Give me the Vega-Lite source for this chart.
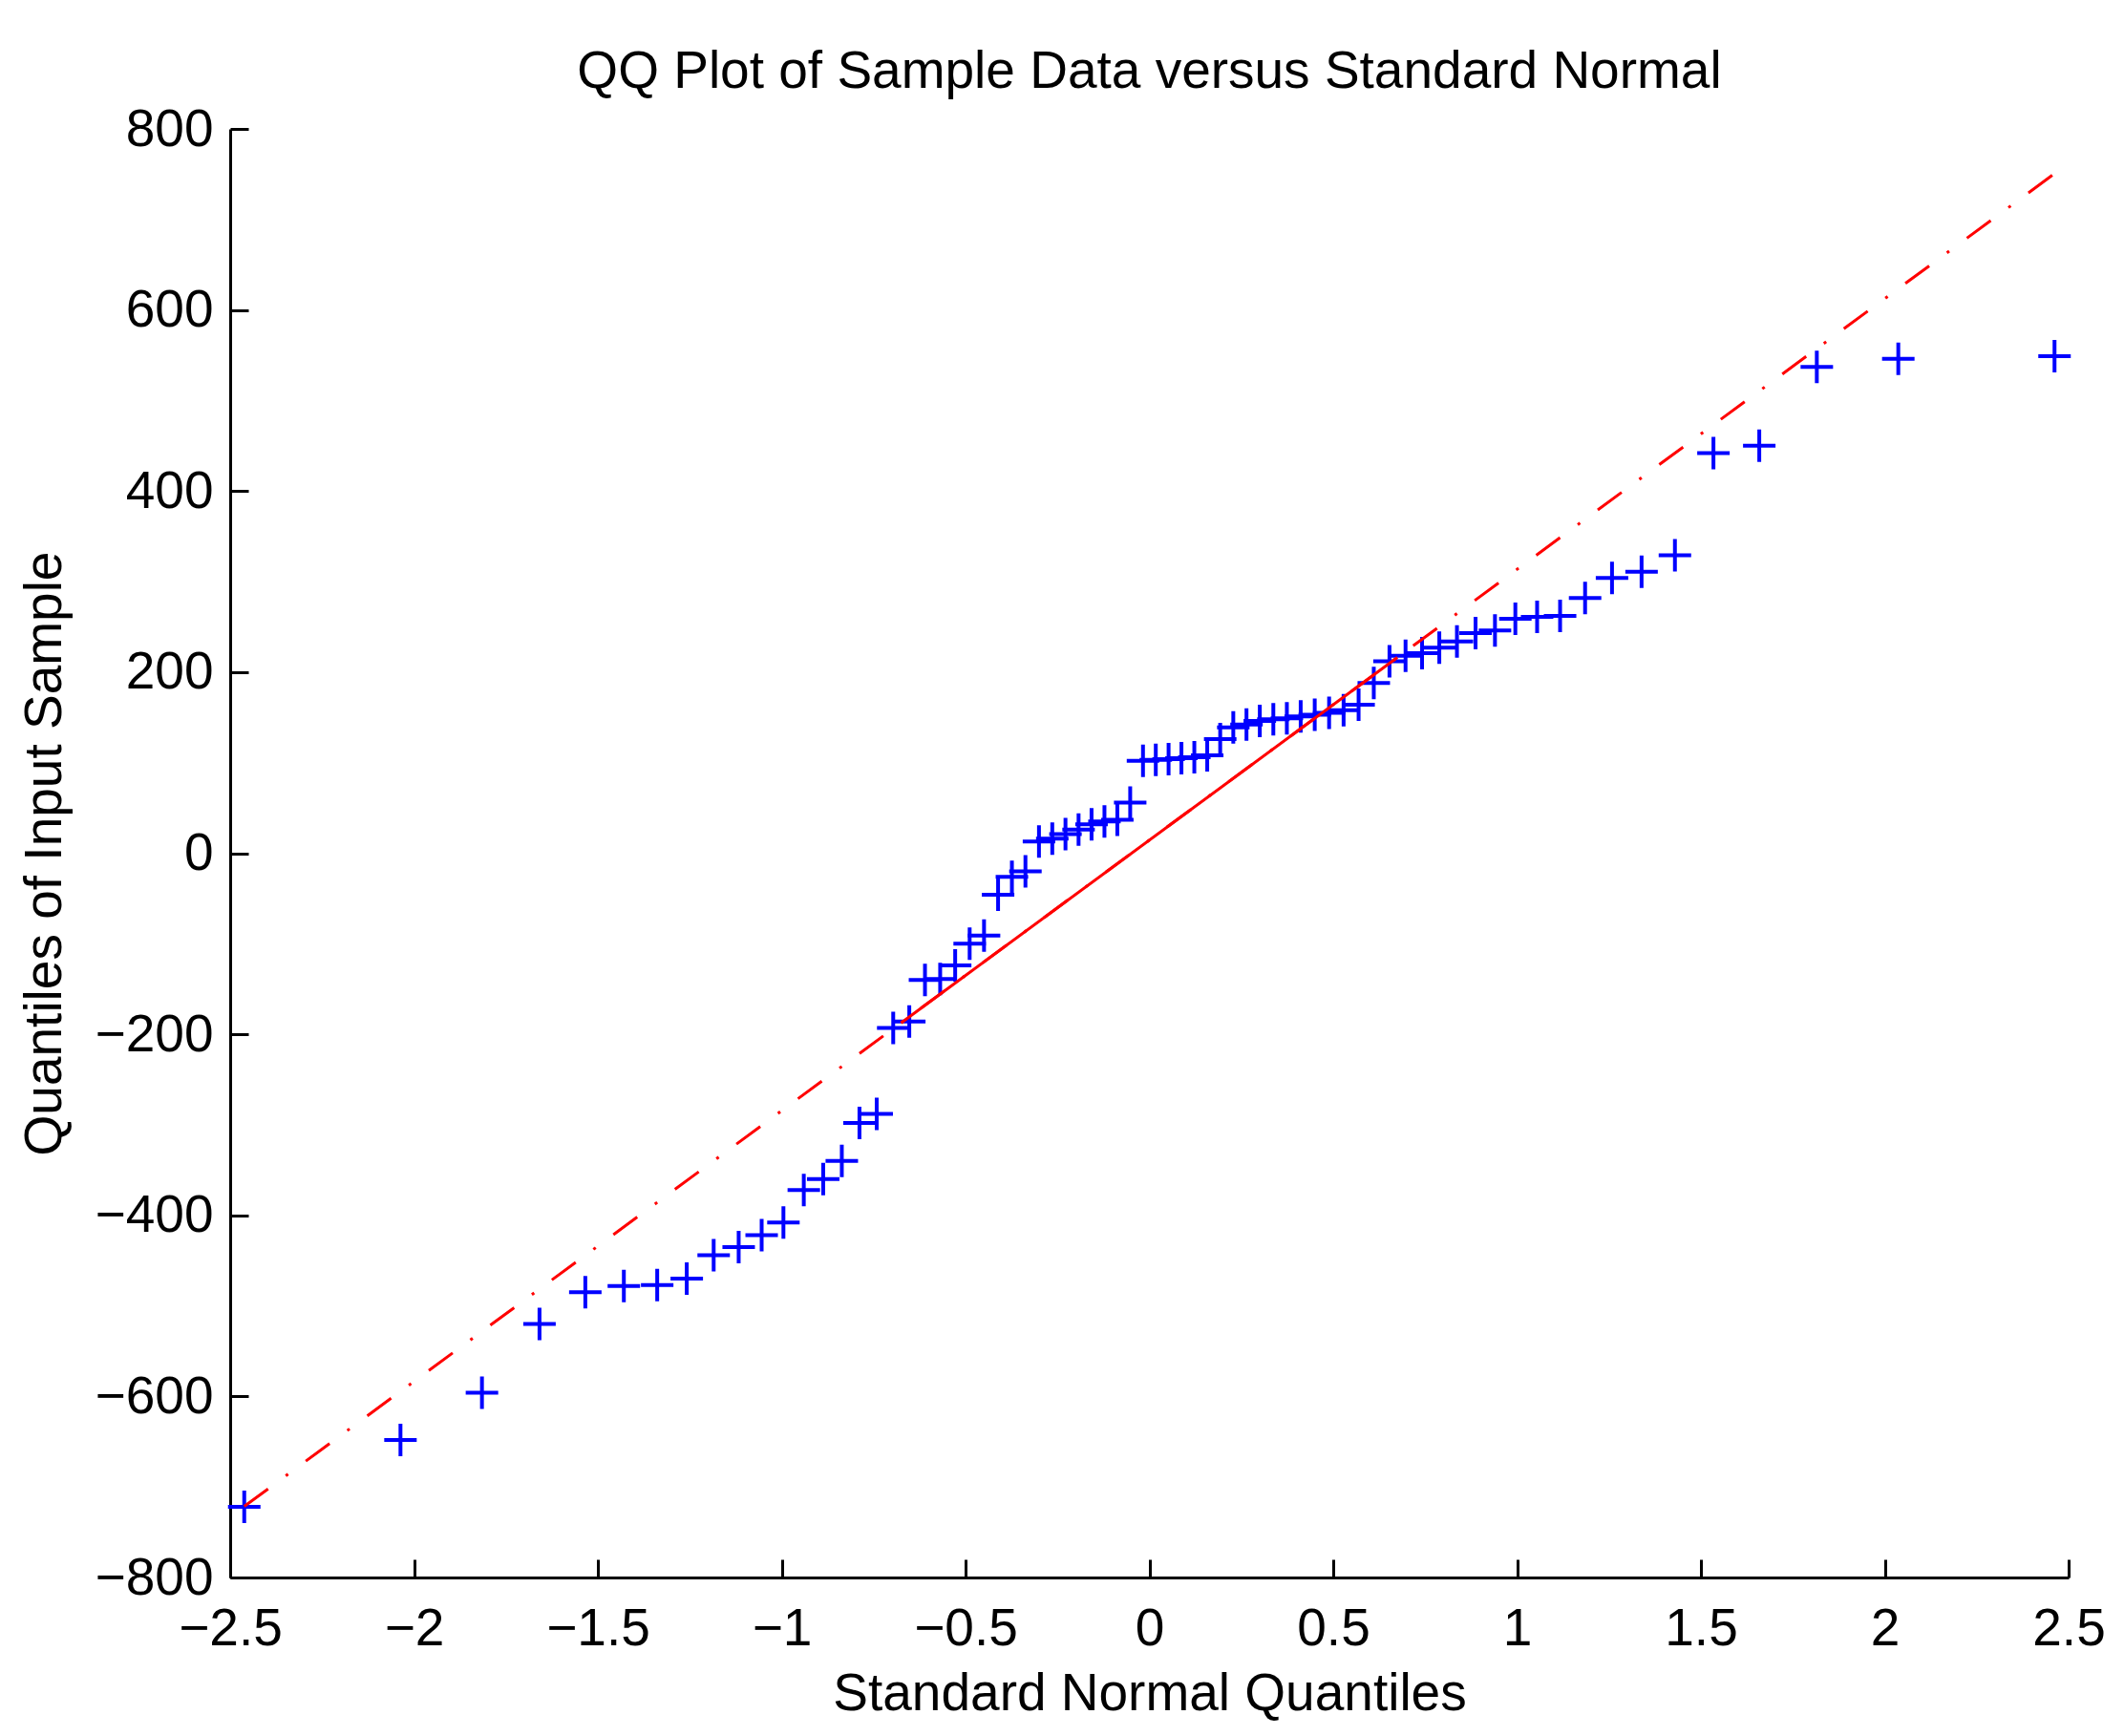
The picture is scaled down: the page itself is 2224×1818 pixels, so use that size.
{
  "$schema": "https://vega.github.io/schema/vega-lite/v6.json",
  "autosize": {"type": "none"},
  "width": 1925,
  "height": 1517,
  "padding": {"left": 241, "top": 135, "right": 58, "bottom": 166},
  "background": "white",
  "config": {
    "view": {"stroke": null},
    "font": "Liberation Sans",
    "axis": {
      "grid": false,
      "domainColor": "black",
      "domainWidth": 3,
      "tickColor": "black",
      "tickWidth": 3,
      "tickSize": -19,
      "labelFont": "Liberation Sans",
      "labelFontSize": 55,
      "labelColor": "black",
      "labelOverlap": false,
      "labelFlush": false,
      "titleFont": "Liberation Sans",
      "titleFontSize": 55,
      "titleFontWeight": "normal",
      "titleColor": "black"
    }
  },
  "title": {
    "text": "QQ Plot of Sample Data versus Standard Normal",
    "frame": "group",
    "anchor": "middle",
    "offset": -39,
    "baseline": "alphabetic",
    "font": "Liberation Sans",
    "fontSize": 55,
    "fontWeight": "normal",
    "color": "black"
  },
  "datasets": {
    "sample": [
      {"x": -2.4617, "y": -722}, {"x": -2.0368, "y": -648}, {"x": -1.8152, "y": -596},
      {"x": -1.6587, "y": -520}, {"x": -1.5341, "y": -485}, {"x": -1.4293, "y": -478},
      {"x": -1.3386, "y": -477}, {"x": -1.2582, "y": -470}, {"x": -1.185, "y": -444},
      {"x": -1.117, "y": -435}, {"x": -1.0545, "y": -422}, {"x": -0.9953, "y": -408},
      {"x": -0.9399, "y": -372}, {"x": -0.8871, "y": -360}, {"x": -0.8365, "y": -340},
      {"x": -0.7885, "y": -298}, {"x": -0.7416, "y": -288}, {"x": -0.6967, "y": -193},
      {"x": -0.653, "y": -186}, {"x": -0.6103, "y": -140}, {"x": -0.569, "y": -139},
      {"x": -0.5282, "y": -124}, {"x": -0.4888, "y": -100}, {"x": -0.4497, "y": -91},
      {"x": -0.4115, "y": -46}, {"x": -0.3739, "y": -26}, {"x": -0.3371, "y": -20},
      {"x": -0.3003, "y": 13}, {"x": -0.2641, "y": 16}, {"x": -0.2282, "y": 21},
      {"x": -0.1926, "y": 26}, {"x": -0.1573, "y": 32}, {"x": -0.1222, "y": 35},
      {"x": -0.0872, "y": 37}, {"x": -0.0522, "y": 56}, {"x": -0.0174, "y": 102},
      {"x": 0.0174, "y": 103}, {"x": 0.0522, "y": 104}, {"x": 0.0872, "y": 105},
      {"x": 0.1222, "y": 106}, {"x": 0.1573, "y": 108}, {"x": 0.1926, "y": 126},
      {"x": 0.2282, "y": 139}, {"x": 0.2641, "y": 142}, {"x": 0.3003, "y": 146},
      {"x": 0.3371, "y": 148}, {"x": 0.3739, "y": 149}, {"x": 0.4115, "y": 151},
      {"x": 0.4497, "y": 153}, {"x": 0.4888, "y": 155}, {"x": 0.5282, "y": 158},
      {"x": 0.569, "y": 164}, {"x": 0.6103, "y": 188}, {"x": 0.653, "y": 212},
      {"x": 0.6967, "y": 218}, {"x": 0.7416, "y": 221}, {"x": 0.7885, "y": 227},
      {"x": 0.8365, "y": 234}, {"x": 0.8871, "y": 243}, {"x": 0.9399, "y": 246},
      {"x": 0.9953, "y": 259}, {"x": 1.0545, "y": 261}, {"x": 1.117, "y": 262},
      {"x": 1.185, "y": 282}, {"x": 1.2582, "y": 304}, {"x": 1.3386, "y": 311},
      {"x": 1.4293, "y": 329}, {"x": 1.5341, "y": 442}, {"x": 1.6587, "y": 450},
      {"x": 1.8152, "y": 537}, {"x": 2.0368, "y": 546}, {"x": 2.4617, "y": 549}
    ],
    "fitFull": [
      {"x": -2.4617, "y": -721.5},
      {"x": 2.4617, "y": 750.6}
    ],
    "fitMid": [
      {"x": -0.6745, "y": -187.2},
      {"x": 0.6745, "y": 216.2}
    ]
  },
  "encoding": {
    "x": {
      "field": "x",
      "type": "quantitative",
      "scale": {"domain": [-2.5, 2.5], "nice": false, "zero": false},
      "axis": {
        "title": "Standard Normal Quantiles",
        "values": [-2.5, -2, -1.5, -1, -0.5, 0, 0.5, 1, 1.5, 2, 2.5],
        "format": "~g",
        "labelPadding": 46,
        "titleX": 962.5,
        "titleY": 138,
        "titleBaseline": "alphabetic",
        "titleAlign": "center"
      }
    },
    "y": {
      "field": "y",
      "type": "quantitative",
      "scale": {"domain": [-800, 800], "nice": false, "zero": false},
      "axis": {
        "title": "Quantiles of Input Sample",
        "values": [-800, -600, -400, -200, 0, 200, 400, 600, 800],
        "format": "d",
        "labelPadding": 37,
        "titleX": -178,
        "titleY": 758.5,
        "titleAngle": -90,
        "titleBaseline": "alphabetic",
        "titleAlign": "center"
      }
    }
  },
  "layer": [
    {
      "data": {"name": "sample"},
      "mark": {
        "type": "point",
        "shape": "M-1,0H1M0,-1V1",
        "filled": false,
        "size": 1156,
        "stroke": "#0000FF",
        "strokeWidth": 4,
        "strokeCap": "butt",
        "opacity": 1
      }
    },
    {
      "data": {"name": "fitFull"},
      "mark": {
        "type": "line",
        "color": "#FF0000",
        "strokeWidth": 3,
        "strokeDash": [31, 23, 3, 23],
        "strokeCap": "butt"
      }
    },
    {
      "data": {"name": "fitMid"},
      "mark": {
        "type": "line",
        "color": "#FF0000",
        "strokeWidth": 3,
        "strokeCap": "butt"
      }
    }
  ]
}
